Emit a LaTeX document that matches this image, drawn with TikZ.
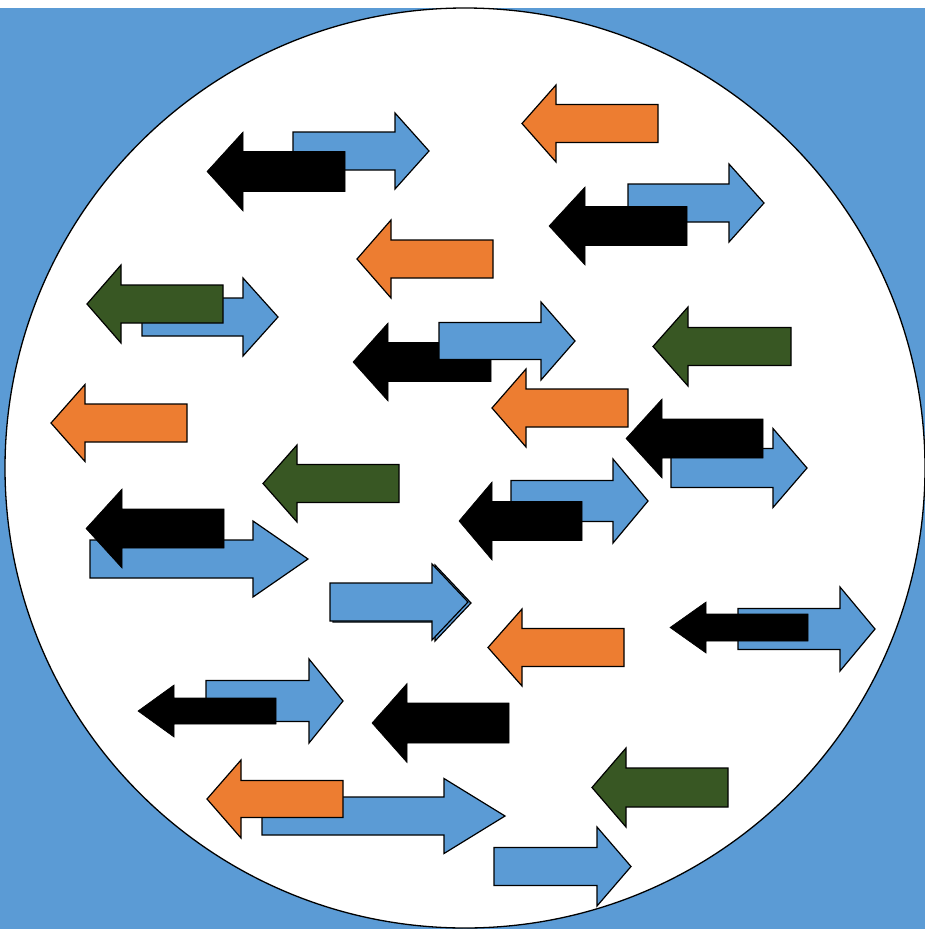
\documentclass[tikz,border=0pt]{standalone}
\usepackage{tikz}
\definecolor{cblue}{HTML}{5B9BD5}
\definecolor{corange}{HTML}{ED7D31}
\definecolor{cgreen}{HTML}{385723}
\tikzset{
  barrow/.style={draw=black, line width=1.2pt, line join=miter, fill=cblue},
  oarrow/.style={draw=black, line width=1.2pt, line join=miter, fill=corange},
  garrow/.style={draw=black, line width=1.2pt, line join=miter, fill=cgreen},
  karrow/.style={draw=black, line width=0.6pt, line join=miter, fill=black},
}
% #1 style, #2 tip x, #3 y, #4 head base x, #5 end x, #6 head half height, #7 shaft half height
\newcommand\blockarr[7]{%
  \path[#1] (#2,#3) -- (#4,#3-#6) -- (#4,#3-#7) -- (#5,#3-#7) -- (#5,#3+#7) -- (#4,#3+#7) -- (#4,#3+#6) -- cycle;}
\begin{document}
\begin{tikzpicture}[x=1pt,y=-1pt]
\useasboundingbox (0,0) rectangle (925,929);
\fill[white] (0,0) rectangle (925,929);
\fill[cblue] (0,8) rectangle (925,929);
\draw[fill=white, line width=1.3pt] (465,468) circle[radius=460];
% arrows
\blockarr{oarrow}{522}{123.5}{556}{658}{38.5}{19}
\blockarr{barrow}{429}{151}{395}{293}{38}{19}
\blockarr{karrow}{207}{171.5}{243}{345}{39.5}{20}
\blockarr{barrow}{764}{203}{729}{628}{39}{19}
\blockarr{karrow}{549}{226}{585}{687}{39}{19.5}
\blockarr{oarrow}{357}{259}{391}{493}{39}{19}
\blockarr{barrow}{278}{317}{243}{142}{39}{19}
\blockarr{garrow}{87}{304}{121}{223}{39}{19}
\blockarr{karrow}{353}{362}{388}{491}{39}{19.5}
\blockarr{barrow}{575}{341}{541}{439}{39}{18.5}
\blockarr{garrow}{653}{346.5}{688}{791}{39.5}{19}
\blockarr{oarrow}{51}{423}{85}{187}{38.5}{19}
\blockarr{oarrow}{492}{408}{526}{628}{39}{19}
\blockarr{barrow}{807}{468}{773}{671}{39.5}{19.5}
\blockarr{karrow}{626}{438.5}{662}{763}{39.5}{19.5}
\blockarr{garrow}{263}{483.5}{297}{399}{38.5}{19}
\blockarr{barrow}{648}{501}{613}{511}{42}{20.5}
\blockarr{karrow}{459}{521}{492}{582}{39}{19.5}
\blockarr{barrow}{308}{559}{253}{90}{38}{19}
\blockarr{karrow}{86}{528.5}{122}{224}{39.5}{19.5}
\blockarr{barrow}{471}{603}{435}{333}{38}{19}
\blockarr{barrow}{468}{602}{432}{330}{38}{19}
\blockarr{oarrow}{488}{647.5}{522}{624}{38.5}{19}
\blockarr{barrow}{875}{629}{840}{738}{42}{20.5}
\blockarr{karrow}{670}{627.5}{706}{808}{25.5}{13.5}
\blockarr{barrow}{343}{701}{309}{206}{42}{20.5}
\blockarr{karrow}{138}{711}{174}{276}{26}{13}
\blockarr{karrow}{372}{723}{407}{509}{39.5}{20}
\blockarr{garrow}{592}{787.5}{626}{728}{39.5}{19.5}
\blockarr{barrow}{505}{816}{444}{262}{37.5}{19}
\blockarr{oarrow}{207}{799}{241}{343}{39}{18.5}
\blockarr{barrow}{631}{866.5}{597}{494}{39.5}{19}
\end{tikzpicture}
\end{document}
